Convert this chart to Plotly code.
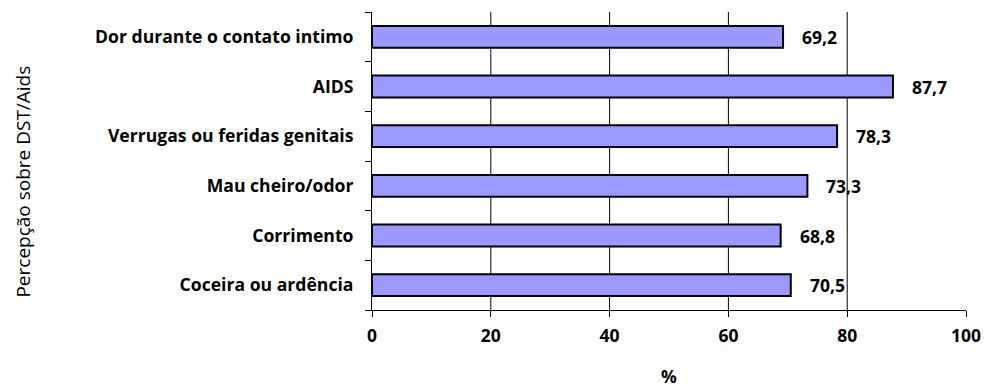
import plotly.graph_objects as go

# Categories listed top to bottom, with their percentages
categories = [
    "Dor durante o contato intimo",
    "AIDS",
    "Verrugas ou feridas genitais",
    "Mau cheiro/odor",
    "Corrimento",
    "Coceira ou ardência",
]
values = [69.2, 87.7, 78.3, 73.3, 68.8, 70.5]
x_ticks = [0, 20, 40, 60, 80, 100]

FONT = "Open Sans"

fig = go.Figure()
fig.add_trace(go.Bar(
    x=values,
    y=categories,
    orientation="h",
    width=0.44,
    marker=dict(color="#9999FF", line=dict(color="#000000", width=2)),
    hoverinfo="skip",
))

# value labels to the right of each bar
for cat, v in zip(categories, values):
    fig.add_annotation(
        x=v, y=cat, xref="x", yref="y",
        text=f"{v:.1f}".replace(".", ","),
        showarrow=False, xanchor="left", yanchor="middle",
        xshift=17,
        font=dict(family=FONT, size=17.5, color="#000000", weight="bold"),
    )

# vertical gridlines at the inner ticks
for t in x_ticks[1:-1]:
    fig.add_shape(type="line", xref="x", yref="paper", x0=t, x1=t, y0=0, y1=1,
                  line=dict(color="#000000", width=1), layer="below")

fig.add_annotation(
    text="Percepção sobre DST/Aids", xref="paper", yref="paper",
    x=-0.588, y=0.43, textangle=-90, showarrow=False,
    xanchor="center", yanchor="middle",
    font=dict(family=FONT, size=19, color="#000000"),
)
fig.add_annotation(
    text="%", xref="paper", yref="paper",
    x=0.5, y=-0.222, showarrow=False, xanchor="center", yanchor="middle",
    font=dict(family=FONT, size=17.5, color="#000000", weight="bold"),
)

fig.update_layout(
    width=992, height=388,
    margin=dict(l=372, r=26, t=12, b=78),
    paper_bgcolor="white", plot_bgcolor="white",
    showlegend=False,
    bargap=0.5,
)
fig.update_xaxes(
    range=[0, 100], tickvals=x_ticks, ticktext=[str(t) for t in x_ticks],
    showgrid=False, zeroline=False,
    showline=True, linecolor="#000000", linewidth=1,
    ticks="outside", ticklen=6, tickcolor="#000000",
    tickfont=dict(family=FONT, size=17.5, color="#000000", weight="bold"),
    ticklabelstandoff=4,
    fixedrange=True,
)
fig.update_yaxes(
    categoryorder="array", categoryarray=categories[::-1],
    range=[-0.5, len(categories) - 0.5],
    tickson="boundaries",
    showgrid=False, zeroline=False,
    showline=True, linecolor="#000000", linewidth=1,
    ticks="outside", ticklen=6, tickcolor="#000000",
    tickfont=dict(family=FONT, size=17.6, color="#000000", weight="bold"),
    ticklabelstandoff=14,
    fixedrange=True,
)

fig.write_html("out.html")
